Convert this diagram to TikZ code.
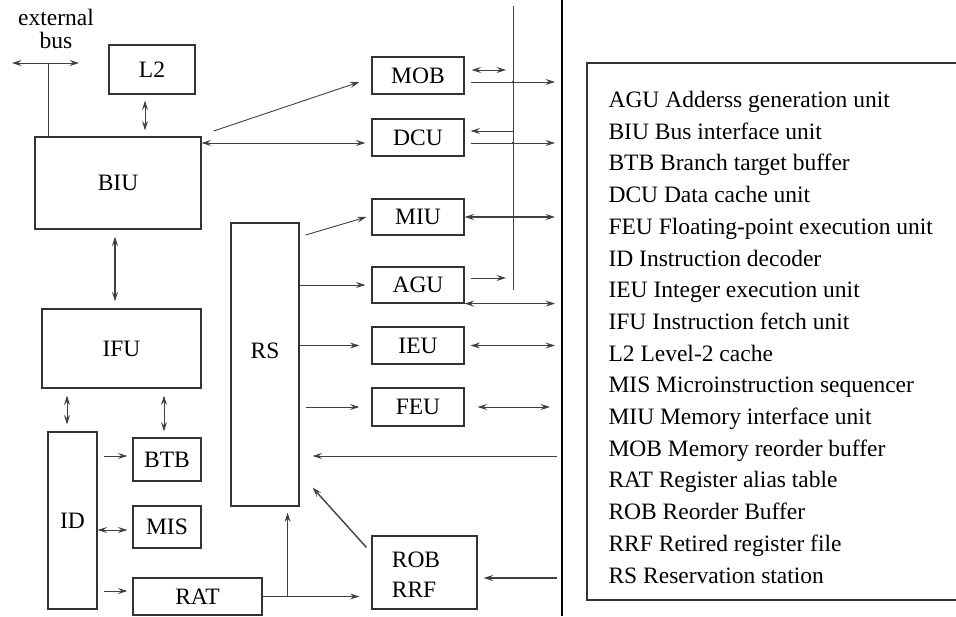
\documentclass[tikz,border=0pt]{standalone}
\usepackage{fontspec}
\setmainfont{Liberation Serif}
\usetikzlibrary{arrows.meta,calc}
\begin{document}
\begin{tikzpicture}[x=1pt,y=-1pt,
  every node/.style={font=\fontsize{23.5}{28}\selectfont},
  unit/.style={draw=black!80, line width=1.2pt, inner sep=0pt},
  wire/.style={draw=black!75, line width=0.9pt},
  tip/.tip={Stealth[length=9.5pt,width=6pt,inset=3.5pt]},
  ar/.style={wire, -tip},
  dar/.style={wire, tip-tip},
  heavy/.style={line width=1.4pt},
]
\useasboundingbox (0,0) rectangle (956,616);

% ---- front end -------------------------------------------------
\node[unit, minimum width=86pt,  minimum height=49pt]  (l2)  at (152,69.5)   {L2};
\node[unit, minimum width=166pt, minimum height=92pt]  (biu) at (118,183)    {BIU};
\node[unit, minimum width=159pt, minimum height=79pt]  (ifu) at (121.5,348.5){IFU};
\node[unit, minimum width=49pt,  minimum height=177pt] (id)  at (72.5,520.5) {ID};
\node[unit, minimum width=68pt,  minimum height=43pt]  (btb) at (167,459.5)  {BTB};
\node[unit, minimum width=68pt,  minimum height=42pt]  (mis) at (167,527)    {MIS};
\node[unit, minimum width=129pt, minimum height=37pt]  (rat) at (197.5,596.5){RAT};

% ---- reservation station and reorder buffer ---------------------
\node[unit, minimum width=68pt, minimum height=283pt] (rs) at (265,364.5) {};
\node (rslabel) at (265,351) {RS};
\node[unit, minimum width=105pt, minimum height=73pt] (rob) at (424.5,572.5) {};
\node[align=left] (roblabel) at (416,575) {ROB\\[2pt]RRF};

% ---- execution / memory units -----------------------------------
\node[unit, minimum width=92pt, minimum height=37pt] (mob) at (418,75.5)  {MOB};
\node[unit, minimum width=92pt, minimum height=37pt] (dcu) at (418,137.5) {DCU};
\node[unit, minimum width=92pt, minimum height=36pt] (miu) at (418,217)   {MIU};
\node[unit, minimum width=92pt, minimum height=36pt] (agu) at (418,285)   {AGU};
\node[unit, minimum width=92pt, minimum height=37pt] (ieu) at (418,345.5) {IEU};
\node[unit, minimum width=92pt, minimum height=38pt] (feu) at (418,407)   {FEU};

% ---- external bus ------------------------------------------------
\node[anchor=base] (ext1) at (56,25) {external};
\node[anchor=base] (ext2) at (56,48) {bus};
\coordinate (busL) at (12,63);
\coordinate (busR) at (79,63);
\coordinate (busJ) at (48,63);
\draw[dar] (busL) -- (busR);
\draw[wire] (busJ) -- (busJ |- biu.north);

% ---- internal bus and divider ----------------------------------
\coordinate (busT) at (513,6);
\coordinate (busB) at (513,290);
\draw[wire] (busT) -- (busB);
\coordinate (divT) at (562,0);
\coordinate (divB) at (562,616);
\draw[line width=1.4pt] (divT) -- (divB);

% ---- front-end connectors ---------------------------------------
\draw[dar] ($(l2.south)+(-7,6)$) -- ($(l2.south |- biu.north)+(-7,-6)$);
\draw[dar,heavy] ($(biu.south)+(-3,7)$) -- ($(biu.south |- ifu.north)+(-3,-7)$);
\draw[dar] ($(id.north |- ifu.south)+(-5.5,7)$) -- ($(id.north)+(-5.5,-7)$);
\draw[dar] ($(btb.north |- ifu.south)+(-3,7)$) -- ($(btb.north)+(-3,-6)$);
\draw[ar] ($(id.east |- btb.west)+(6,-3.5)$) -- ($(btb.west)+(-5,-3.5)$);
\draw[dar] ($(id.east |- mis.west)+(0,3)$) -- ($(mis.west)+(-5,3)$);
\draw[ar] ($(id.east |- rat.west)+(6,-5.5)$) -- ($(rat.west)+(-5,-5.5)$);

% RAT feeds the ROB and the RS
\draw[ar] (rat.east) -- ($(rat.east -| rob.west)+(-12,0)$);
\coordinate (ratJ) at ($(rat.east)+(25,0)$);
\draw[ar] (ratJ) -- ($(ratJ |- rs.south)+(0,6)$);

% BIU to memory side
\draw[ar] ($(biu.east)+(12,-52)$) -- ($(mob.west)+(-12,6.5)$);
\draw[dar] ($(biu.east)+(0,-40)$) -- ($(dcu.west)+(-6,5.5)$);

% RS dispatch
\draw[ar] ($(rs.east)+(6,-129.5)$) -- ($(miu.west)+(-5,0)$);
\draw[ar] (rs.east |- agu.west) -- ($(agu.west)+(-6,0)$);
\draw[ar] (rs.east |- ieu.west) -- ($(ieu.west)+(-12,0)$);
\draw[ar] ($(rs.east |- feu.west)+(6,0)$) -- ($(feu.west)+(-12,0)$);

% results back into RS and ROB
\coordinate (fbR) at (557,456);
\draw[ar] (fbR) -- ($(rs.east |- fbR)+(13,0)$);
\draw[ar,heavy] ($(rob.north west)+(-5,12)$) -- ($(rs.south east)+(13,-19)$);
\coordinate (retR) at (557,578);
\draw[ar,heavy] (retR) -- ($(rob.east |- retR)+(6,0)$);

% units to internal bus
\draw[dar] ($(mob.east)+(7,-5.5)$) -- ($(mob.east -| busT)+(-7,-5.5)$);
\draw[ar] ($(mob.east)+(6,6.5)$) -- ($(mob.east -| divT)+(-7,6.5)$);
\fill[black!75] ($(mob.east -| busT)+(0,6.5)$) circle (1.4pt);
\draw[ar] ($(dcu.east -| busT)+(0,-6.5)$) -- ($(dcu.east)+(6,-6.5)$);
\draw[ar] ($(dcu.east)+(6,5.5)$) -- ($(dcu.east -| divT)+(-7,5.5)$);
\fill[black!75] ($(dcu.east -| busT)+(0,5.5)$) circle (1.4pt);
\draw[dar,heavy] (miu.east) -- ($(miu.east -| divT)+(-7,0)$);
\draw[ar] ($(agu.east)+(6,-7)$) -- ($(agu.east -| busT)+(-7,-7)$);
\draw[dar] (agu.south east) -- ($(agu.south east -| divT)+(-7,0)$);
\draw[dar] ($(ieu.east)+(6,0)$) -- ($(ieu.east -| divT)+(-7,0)$);
\draw[dar] ($(feu.east)+(13,0)$) -- ($(feu.east -| divT)+(-12,0)$);

% ---- legend -----------------------------------------------------
\draw[unit] (956,63) -- (587,63) -- (587,600) -- (956,600);
\foreach \t [count=\i from 0] in {
  AGU Adderss generation unit,
  BIU Bus interface unit,
  BTB Branch target buffer,
  DCU Data cache unit,
  FEU Floating-point execution unit,
  ID Instruction decoder,
  IEU Integer execution unit,
  IFU Instruction fetch unit,
  L2 Level-2 cache,
  MIS Microinstruction sequencer,
  MIU Memory interface unit,
  MOB Memory reorder buffer,
  RAT Register alias table,
  ROB Reorder Buffer,
  RRF Retired register file,
  RS Reservation station}
  \node[anchor=base west] (leg\i) at (605,107.5+31.7*\i) {\t};
\end{tikzpicture}
\end{document}
